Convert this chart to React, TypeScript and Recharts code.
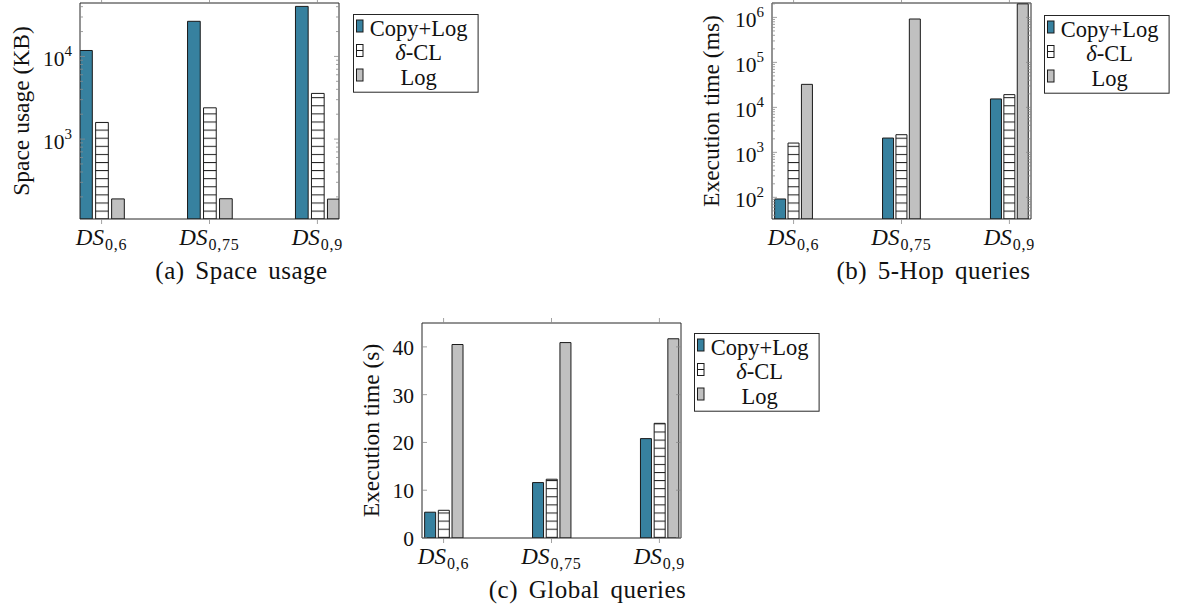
import { Bar, BarChart, Legend, XAxis, YAxis } from 'recharts'

// DS_{x} sub-labels and series
const categories = ['0,6', '0,75', '0,9']
const seriesNames = ['Copy+Log', 'δ-CL', 'Log']

// (a) space usage, KB
const spaceCopyLog = [11800, 26600, 40300]
const spaceDeltaCL = [1590, 2390, 3570]
const spaceLog = [189, 190, 188]

// (b) 5-hop queries, ms
const hopCopyLog = [92, 2080, 15400]
const hopDeltaCL = [1610, 2470, 19200]
const hopLog = [32500, 921000, 2000000]

// (c) global queries, s
const globalCopyLog = [5.4, 11.6, 20.8]
const globalDeltaCL = [5.8, 12.3, 24.0]
const globalLog = [40.5, 40.9, 41.7]

const linearTicks = [0, 10, 20, 30, 40]
const catTicks = [0, 1, 2]

const FONT = '"Liberation Serif", "Times New Roman", serif'
const INK = '#111'
const EDGE = '#1a1a1a'
const FRAME = '#262626'
const TICK = '#8a8a8a'
const TEAL = '#37819f'
const GRAY = '#c0c0c0'
const LABEL_GAP = 8

// major + minor ticks of a log axis (1..9 x 10^k inside [lo, hi])
function logTicks(lo: number, hi: number) {
  const out: number[] = []
  for (let e = Math.floor(Math.log10(lo)); e <= Math.ceil(Math.log10(hi)); e++) {
    for (let m = 1; m <= 9; m++) {
      const v = m * Math.pow(10, e)
      if (v >= lo && v <= hi) out.push(v)
    }
  }
  return out
}

const toRows = (a: number[], b: number[], c: number[]) =>
  categories.map((cat, i) => ({ x: i, cat, copyLog: a[i], deltaCL: b[i], log: c[i] }))

const isPow10 = (v: number) => Math.abs(Math.log10(v) - Math.round(Math.log10(v))) < 1e-9

type TickProps = { x: number; y: number; payload: { value: number } }

function LogLeftTick({ x, y, payload }: TickProps) {
  const v = payload.value
  const major = isPow10(v)
  const ax = x + LABEL_GAP
  return (
    <g>
      <line x1={ax} x2={ax + (major ? 5 : 3)} y1={y} y2={y} stroke={TICK} strokeWidth={0.8} />
      {major && (
        <text x={x} y={y + 9.5} textAnchor="end" fontFamily={FONT} fontSize={21.5} fill={INK}>
          10
          <tspan fontSize={15} dy={-10}>
            {Math.round(Math.log10(v))}
          </tspan>
        </text>
      )}
    </g>
  )
}

function LogRightTick({ x, y, payload }: TickProps) {
  const major = isPow10(payload.value)
  return <line x1={x} x2={x - (major ? 5 : 3)} y1={y} y2={y} stroke={TICK} strokeWidth={0.8} />
}

function LinLeftTick({ x, y, payload }: TickProps) {
  const ax = x + LABEL_GAP
  return (
    <g>
      <line x1={ax} x2={ax + 5} y1={y} y2={y} stroke={TICK} strokeWidth={0.8} />
      <text x={x} y={y + 8} textAnchor="end" fontFamily={FONT} fontSize={21.5} fill={INK}>
        {payload.value}
      </text>
    </g>
  )
}

function LinRightTick({ x, y }: TickProps) {
  return <line x1={x} x2={x - 5} y1={y} y2={y} stroke={TICK} strokeWidth={0.8} />
}

function CatTick({ x, y, payload }: TickProps) {
  return (
    <text x={x} y={y + 21} textAnchor="middle" fontFamily={FONT} fill={INK}>
      <tspan fontSize={23} fontStyle="italic">
        DS
      </tspan>
      <tspan fontSize={16} dy={5} dx={1} letterSpacing={0.8}>
        {categories[payload.value]}
      </tspan>
    </text>
  )
}

const NoTick = () => <g />

function YTitle(props: any) {
  const vb = props.viewBox
  const x = vb.x + 28.5
  const y = vb.y + vb.height / 2
  return (
    <text
      x={x}
      y={y}
      transform={`rotate(-90, ${x}, ${y})`}
      textAnchor="middle"
      fontFamily={FONT}
      fontSize={23.5}
      fill={INK}
    >
      {props.text}
    </text>
  )
}

function Caption(props: any) {
  const vb = props.viewBox
  return (
    <text
      x={vb.x + vb.width / 2 + props.dx}
      y={vb.y + 60}
      textAnchor="middle"
      fontFamily={FONT}
      fontSize={25}
      letterSpacing={0.5}
      wordSpacing={4}
      fill={INK}
    >
      {props.text}
    </text>
  )
}

function LegendBox() {
  return (
    <svg width={127} height={80} style={{ display: 'block' }}>
      <rect x={0.5} y={0.5} width={124.6} height={77.7} fill="#fff" stroke={FRAME} strokeWidth={1} />
      {seriesNames.map((name, i) => {
        const cy = 12 + i * 24.5
        const fill = i === 0 ? TEAL : i === 1 ? '#fff' : GRAY
        return (
          <g key={name}>
            <rect x={3.5} y={cy - 6} width={6.5} height={12} fill={fill} stroke={EDGE} strokeWidth={1} />
            {i === 1 && <line x1={3.5} x2={10} y1={cy} y2={cy} stroke={EDGE} strokeWidth={1} />}
            <text x={65.6} y={cy + 9.5} textAnchor="middle" fontFamily={FONT} fontSize={22.5} fill={INK}>
              {i === 1 ? (
                <>
                  <tspan fontStyle="italic">δ</tspan>-CL
                </>
              ) : (
                name
              )}
            </text>
          </g>
        )
      })}
    </svg>
  )
}

type PanelProps = {
  id: string
  left: number
  top: number
  width: number
  height: number
  yAxisWidth: number
  margin: { top: number; right: number; bottom: number; left: number }
  rows: ReturnType<typeof toRows>
  log: boolean
  domain: [number, number]
  ticks: number[]
  barSize: number
  barGap: number
  yTitle: string
  caption: string
  captionDx: number
  legendPos: { left: number; top: number }
}

function Panel(p: PanelProps) {
  const hatch = `hatch-${p.id}`
  const fills = [TEAL, `url(#${hatch})`, GRAY]
  const keys = ['copyLog', 'deltaCL', 'log']
  return (
    <div style={{ position: 'absolute', left: p.left, top: p.top, width: p.width, height: p.height }}>
      <BarChart
        width={p.width}
        height={p.height}
        data={p.rows}
        margin={p.margin}
        barGap={p.barGap}
        barSize={p.barSize}
      >
        <defs>
          <pattern id={hatch} patternUnits="userSpaceOnUse" width={8} height={8.1}>
            <rect width={8} height={8.1} fill="#fff" />
            <line x1={0} x2={8} y1={0.5} y2={0.5} stroke={EDGE} strokeWidth={1} />
          </pattern>
        </defs>
        {keys.map((k, i) => (
          <Bar
            key={k}
            dataKey={k}
            name={seriesNames[i]}
            xAxisId="b"
            yAxisId="l"
            fill={fills[i]}
            stroke={EDGE}
            strokeWidth={1}
            isAnimationActive={false}
          />
        ))}
        <XAxis
          xAxisId="b"
          dataKey="x"
          type="number"
          domain={[-0.2, 2.2]}
          allowDataOverflow
          ticks={catTicks}
          interval={0}
          height={50}
          tickSize={5}
          tickMargin={0}
          tickLine={{ stroke: TICK, strokeWidth: 0.8 }}
          axisLine={{ stroke: FRAME, strokeWidth: 1 }}
          tick={CatTick}
          label={<Caption text={p.caption} dx={p.captionDx} />}
        />
        <XAxis
          xAxisId="t"
          orientation="top"
          dataKey="x"
          type="number"
          domain={[-0.2, 2.2]}
          allowDataOverflow
          ticks={catTicks}
          interval={0}
          height={1}
          tickSize={5}
          tickLine={{ stroke: TICK, strokeWidth: 0.8 }}
          axisLine={{ stroke: FRAME, strokeWidth: 1 }}
          tick={NoTick}
        />
        <YAxis
          yAxisId="l"
          type="number"
          scale={p.log ? 'log' : 'linear'}
          domain={p.domain}
          allowDataOverflow
          ticks={p.ticks}
          interval={0}
          width={p.yAxisWidth}
          tickSize={0}
          tickMargin={LABEL_GAP}
          tickLine={false}
          axisLine={{ stroke: FRAME, strokeWidth: 1 }}
          tick={p.log ? LogLeftTick : LinLeftTick}
          label={<YTitle text={p.yTitle} />}
        />
        <YAxis
          yAxisId="r"
          orientation="right"
          type="number"
          scale={p.log ? 'log' : 'linear'}
          domain={p.domain}
          allowDataOverflow
          ticks={p.ticks}
          interval={0}
          width={1}
          tickSize={0}
          tickMargin={0}
          tickLine={false}
          axisLine={{ stroke: FRAME, strokeWidth: 1 }}
          tick={p.log ? LogRightTick : LinRightTick}
        />
        <Legend
          layout="vertical"
          align="center"
          verticalAlign="middle"
          content={() => <LegendBox />}
          wrapperStyle={{ left: p.legendPos.left, top: p.legendPos.top, width: 127, height: 80 }}
        />
      </BarChart>
    </div>
  )
}

const spaceDomain: [number, number] = [108, 44300]
const hopDomain: [number, number] = [33, 2090000]

export default function App() {
  return (
    <div
      style={{
        position: 'absolute',
        left: 0,
        top: 0,
        width: 1181,
        height: 612,
        background: '#fff',
        fontFamily: FONT,
      }}
    >
      <Panel
        id="a"
        left={0}
        top={0}
        width={480}
        height={290}
        yAxisWidth={80}
        margin={{ top: 2, right: 140, bottom: 21, left: 0 }}
        rows={toRows(spaceCopyLog, spaceDeltaCL, spaceLog)}
        log
        domain={spaceDomain}
        ticks={logTicks(spaceDomain[0], spaceDomain[1])}
        barSize={12.7}
        barGap={3.3}
        yTitle="Space usage (KB)"
        caption="(a) Space usage"
        captionDx={32}
        legendPos={{ left: 352.7, top: 14.3 }}
      />
      <Panel
        id="b"
        left={690}
        top={0}
        width={491}
        height={300}
        yAxisWidth={82}
        margin={{ top: 2, right: 149, bottom: 31, left: 0 }}
        rows={toRows(hopCopyLog, hopDeltaCL, hopLog)}
        log
        domain={hopDomain}
        ticks={logTicks(hopDomain[0], hopDomain[1])}
        barSize={11}
        barGap={2.4}
        yTitle="Execution time (ms)"
        caption="(b) 5-Hop queries"
        captionDx={32}
        legendPos={{ left: 354.3, top: 14.7 }}
      />
      <Panel
        id="c"
        left={350}
        top={310}
        width={480}
        height={302}
        yAxisWidth={72}
        margin={{ top: 12, right: 148, bottom: 24, left: 0 }}
        rows={toRows(globalCopyLog, globalDeltaCL, globalLog)}
        log={false}
        domain={[0, 45]}
        ticks={linearTicks}
        barSize={11}
        barGap={2.7}
        yTitle="Execution time (s)"
        caption="(c) Global queries"
        captionDx={36}
        legendPos={{ left: 344, top: 22.7 }}
      />
    </div>
  )
}
